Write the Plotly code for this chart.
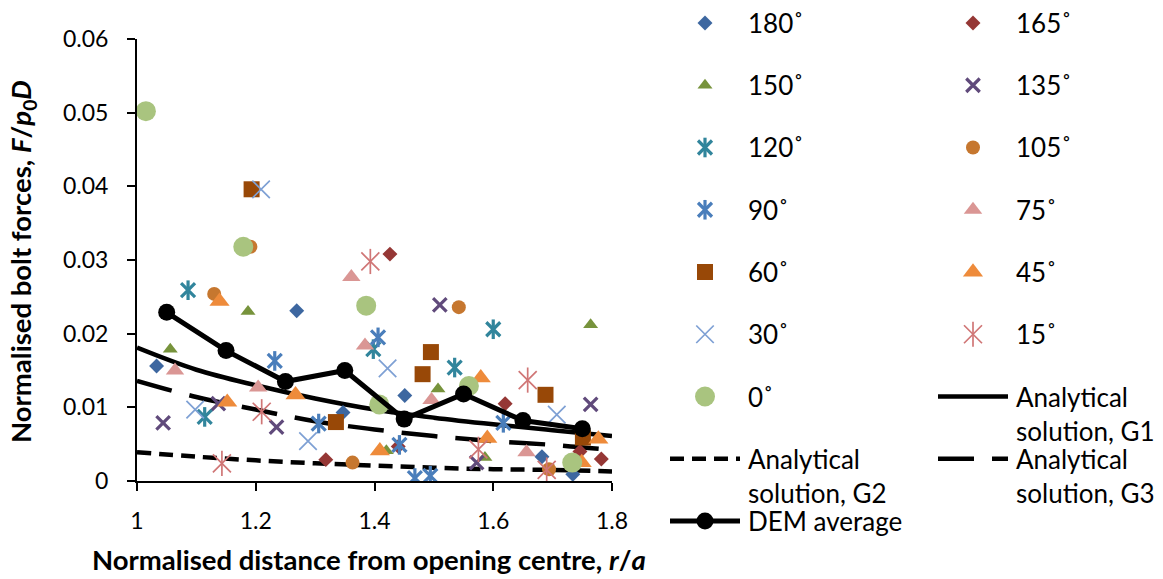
import plotly.graph_objects as go

W, H = 1163, 579
FONT = "Lato"

# ---------------- data ----------------
x180 = [1.033, 1.269, 1.347, 1.451, 1.682, 1.734]
y180 = [0.0156, 0.0231, 0.0093, 0.0116, 0.0033, 0.0009]

x165 = [1.318, 1.426, 1.440, 1.620, 1.746, 1.782]
y165 = [0.0029, 0.0308, 0.0047, 0.0105, 0.0040, 0.0030]

x150 = [1.056, 1.187, 1.420, 1.507, 1.586, 1.764]
y150 = [0.0179, 0.0230, 0.0041, 0.0125, 0.0032, 0.0212]

x135 = [1.044, 1.137, 1.235, 1.510, 1.572, 1.764]
y135 = [0.0079, 0.0105, 0.0073, 0.0239, 0.0025, 0.0104]

x120 = [1.086, 1.114, 1.398, 1.535, 1.600]
y120 = [0.0259, 0.0087, 0.0179, 0.0154, 0.0206]

x105 = [1.130, 1.191, 1.363, 1.542, 1.694]
y105 = [0.0254, 0.0318, 0.0025, 0.0236, 0.0016]

x90 = [1.232, 1.306, 1.406, 1.442, 1.468, 1.494, 1.617]
y90 = [0.0163, 0.0078, 0.0195, 0.0049, 0.0004, 0.0007, 0.0079]

x75 = [1.064, 1.204, 1.361, 1.384, 1.496, 1.656]
y75 = [0.0150, 0.0127, 0.0277, 0.0184, 0.0110, 0.0039]

x60 = [1.193, 1.335, 1.481, 1.495, 1.688, 1.751]
y60 = [0.0396, 0.0080, 0.0145, 0.0175, 0.0117, 0.0059]

x45 = [1.139, 1.152, 1.267, 1.409, 1.579, 1.590, 1.749, 1.777]
y45 = [0.0244, 0.0107, 0.0117, 0.0041, 0.0140, 0.0058, 0.0025, 0.0057]

x30 = [1.098, 1.209, 1.288, 1.422, 1.707]
y30 = [0.0097, 0.0396, 0.0054, 0.0153, 0.0090]

x15 = [1.143, 1.210, 1.393, 1.575, 1.658, 1.690]
y15 = [0.0024, 0.0094, 0.0298, 0.0043, 0.0137, 0.0015]

x0 = [1.015, 1.179, 1.386, 1.408, 1.559, 1.733]
y0 = [0.0502, 0.0318, 0.0238, 0.0104, 0.0129, 0.0025]

r_analytical = [1.0, 1.1, 1.2, 1.3, 1.4, 1.5, 1.6, 1.7, 1.8]
g1 = [0.0181, 0.0151, 0.0130, 0.0112, 0.0097, 0.0086, 0.0077, 0.0069, 0.0061]
g2 = [0.0039, 0.0033, 0.0028, 0.0024, 0.0021, 0.0018, 0.0016, 0.0015, 0.0013]
g3 = [0.0136, 0.0114, 0.0097, 0.0081, 0.0070, 0.0061, 0.0054, 0.0049, 0.0042]

dem_r = [1.05, 1.15, 1.25, 1.35, 1.45, 1.55, 1.65, 1.75]
dem_f = [0.0229, 0.0177, 0.0135, 0.0150, 0.0084, 0.0118, 0.0082, 0.0071]

x_ticks = [1.0, 1.2, 1.4, 1.6, 1.8]
x_ticktext = ["1", "1.2", "1.4", "1.6", "1.8"]
y_ticks = [0, 0.01, 0.02, 0.03, 0.04, 0.05, 0.06]
y_ticktext = ["0", "0.01", "0.02", "0.03", "0.04", "0.05", "0.06"]

# ---------------- styles ----------------
# (name, x, y, kind, color, size, linewidth)
scatter_series = [
    ("180˚", x180, y180, "diamond", "#3D67A0", 11.5, 0),
    ("165˚", x165, y165, "diamond", "#953735", 11.5, 0),
    ("150˚", x150, y150, "triangle-up", "#77933C", 13, 0),
    ("135˚", x135, y135, "x", "#604A7B", 13.5, 3.2),
    ("120˚", x120, y120, "star", "#31859C", 14, 3.2),
    ("105˚", x105, y105, "circle", "#C6772F", 14, 0),
    ("90˚", x90, y90, "star", "#4A7EBB", 14, 3.2),
    ("75˚", x75, y75, "triangle-up", "#DA9694", 16, 0),
    ("60˚", x60, y60, "square", "#984807", 16, 0),
    ("45˚", x45, y45, "triangle-up", "#EE8B3B", 17.5, 0),
    ("30˚", x30, y30, "x", "#7EA0D4", 17.5, 1.7),
    ("15˚", x15, y15, "star", "#D07676", 18, 1.7),
    ("0˚", x0, y0, "circle", "#A9C47F", 20, 0),
]

fig = go.Figure()


def add_markers(xs, ys, kind, color, size, lw, xaxis="x", yaxis="y"):
    if kind in ("x", "star"):
        fig.add_trace(go.Scatter(
            x=xs, y=ys, mode="markers", xaxis=xaxis, yaxis=yaxis, showlegend=False,
            hoverinfo="skip",
            marker=dict(symbol="x-thin-open", size=size, color=color,
                        line=dict(color=color, width=lw))))
        if kind == "star":
            fig.add_trace(go.Scatter(
                x=xs, y=ys, mode="markers", xaxis=xaxis, yaxis=yaxis, showlegend=False,
                hoverinfo="skip",
                marker=dict(symbol="line-ns-open", size=size, color=color,
                            line=dict(color=color, width=lw))))
    else:
        fig.add_trace(go.Scatter(
            x=xs, y=ys, mode="markers", xaxis=xaxis, yaxis=yaxis, showlegend=False,
            hoverinfo="skip",
            marker=dict(symbol=kind, size=size, color=color, line=dict(width=0))))


LW = 4.5
G1_DASH = "solid"
G2_DASH = "14px,8px"
G3_DASH = "36px,18px"

# analytical lines
for ys, dash in ((g1, G1_DASH), (g2, G2_DASH), (g3, G3_DASH)):
    fig.add_trace(go.Scatter(x=r_analytical, y=ys, mode="lines", showlegend=False,
                             line=dict(color="black", width=LW, dash=dash, shape="spline")))

# scatter series
for name, xs, ys, kind, color, size, lw in scatter_series:
    add_markers(xs, ys, kind, color, size, lw)

# DEM average
fig.add_trace(go.Scatter(x=dem_r, y=dem_f, mode="lines+markers", showlegend=False,
                         line=dict(color="black", width=5),
                         marker=dict(symbol="circle", size=17, color="black")))

# ---------------- manual legend (pixel-based overlay axis) ----------------
ROW0, PITCH = 23, 62.25
KEY_X = [705, 973]
TEXT_X = [746, 1014]
HALF = 35
LFONT = dict(family=FONT, size=26, color="black")

entries = [(s[0], "marker", s) for s in scatter_series]
entries.insert(13, ("Analytical<br>solution, G1", "line", G1_DASH))
entries.insert(14, ("Analytical<br>solution, G2", "line", G2_DASH))
entries.insert(15, ("Analytical<br>solution, G3", "line", G3_DASH))
entries.append(("DEM average", "dem", None))

annotations = []
for k, (label, kind, info) in enumerate(entries):
    row, col = divmod(k, 2)
    yc = ROW0 + PITCH * row
    kx = KEY_X[col]
    if kind == "marker":
        _, _, _, mk, color, size, lw = info
        add_markers([kx], [yc], mk, color, size, lw, xaxis="x2", yaxis="y2")
    elif kind == "line":
        fig.add_trace(go.Scatter(x=[kx - HALF, kx + HALF], y=[yc, yc], mode="lines",
                                 xaxis="x2", yaxis="y2", showlegend=False,
                                 line=dict(color="black", width=LW, dash=info)))
    else:
        fig.add_trace(go.Scatter(x=[kx - HALF, kx, kx + HALF], y=[yc, yc, yc],
                                 mode="lines", xaxis="x2", yaxis="y2", showlegend=False,
                                 line=dict(color="black", width=5)))
        fig.add_trace(go.Scatter(x=[kx], y=[yc], mode="markers", xaxis="x2", yaxis="y2",
                                 showlegend=False,
                                 marker=dict(symbol="circle", size=17, color="black")))
    nlines = label.count("<br>") + 1
    annotations.append(dict(
        text=label, x=TEXT_X[col] / W, y=1 - (yc + 17.5 * (nlines - 1)) / H,
        xref="paper", yref="paper", xanchor="left", yanchor="middle",
        showarrow=False, align="left", font=LFONT))

# axis titles
TFONT = dict(family=FONT, size=27.5, color="black")
annotations.append(dict(
    text="<b>Normalised distance from opening centre, <i>r</i>/<i>a</i></b>",
    x=369 / W, y=1 - 559 / H, xref="paper", yref="paper", xanchor="center",
    yanchor="middle", showarrow=False, font=TFONT))
annotations.append(dict(
    text="<b>Normalised bolt forces, <i>F</i>/<i>p</i><sub>0</sub><i>D</i></b>",
    x=22 / W, y=1 - 262 / H, xref="paper", yref="paper", xanchor="center",
    yanchor="middle", textangle=-90, showarrow=False, font=TFONT))

X0, X1, Y0, Y1 = 137, 612, 39, 481

fig.update_layout(
    width=W, height=H,
    margin=dict(l=0, r=0, t=0, b=0),
    paper_bgcolor="white", plot_bgcolor="rgba(0,0,0,0)",
    font=dict(family=FONT, color="black"),
    showlegend=False,
    annotations=annotations,
    xaxis=dict(domain=[X0 / W, X1 / W], range=[1, 1.8], tickvals=x_ticks,
               ticktext=x_ticktext, showline=True, linecolor="black", linewidth=2,
               ticks="outside", ticklen=8, tickwidth=2, tickcolor="black",
               showgrid=False, zeroline=False, automargin=False,
               tickfont=dict(family=FONT, size=23, color="black"),
               ticklabelstandoff=10, anchor="y"),
    yaxis=dict(domain=[1 - Y1 / H, 1 - Y0 / H], range=[0, 0.06], tickvals=y_ticks,
               ticktext=y_ticktext, showline=True, linecolor="black", linewidth=2,
               ticks="outside", ticklen=8, tickwidth=2, tickcolor="black",
               showgrid=False, zeroline=False, automargin=False,
               tickfont=dict(family=FONT, size=23, color="black"),
               ticklabelstandoff=14, anchor="x"),
    xaxis2=dict(domain=[0, 1], range=[0, W], visible=False, anchor="y2",
                fixedrange=True),
    yaxis2=dict(domain=[0, 1], range=[H, 0], visible=False, anchor="x2",
                fixedrange=True),
)

fig.write_html("out.html")
